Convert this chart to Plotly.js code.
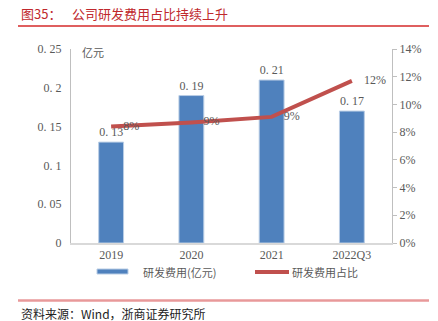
<!DOCTYPE html>
<html><head><meta charset="utf-8">
<script src="https://cdn.plot.ly/plotly-3.0.1.min.js"></script>
<style>html,body{margin:0;padding:0;background:#fff}#c{width:438px;height:321px}</style>
</head><body><div id="c"></div>
<script>
const categories = ['2019', '2020', '2021', '2022Q3'];
const rdExpense = [0.13, 0.19, 0.21, 0.17];      // 亿元
const rdRatio = [0.084, 0.087, 0.091, 0.117];    // 占比
const leftTicks = [0, 0.05, 0.1, 0.15, 0.2, 0.25];
const leftTickText = ['0', '0. 05', '0. 1', '0. 15', '0. 2', '0. 25'];
const barLabels = rdExpense.map(v => v.toFixed(2).replace('.', '. '));
const seriesNames = ['研发费用(亿元)', '研发费用占比'];

const numFont = {family: 'Liberation Serif, serif', size: 12, color: '#595959'};
const cjk = 'Noto Sans CJK SC, sans-serif';

const traces = [
  {type: 'bar', x: categories, y: rdExpense, name: seriesNames[0], width: 0.31,
   marker: {color: '#4f81bd', line: {color: '#b9cde5', width: 1}},
   text: barLabels, textposition: 'outside', cliponaxis: false,
   textfont: numFont, hoverinfo: 'skip'},
  {type: 'scatter', mode: 'lines+text', x: categories, y: rdRatio, yaxis: 'y2', name: seriesNames[1],
   line: {color: '#c0504d', width: 4},
   texttemplate: '    %{y:.0%}', textposition: 'middle right', textfont: numFont, cliponaxis: false}
];

const P = (px) => (px - 71) / 321;
const Q = (py) => (243 - py) / 194;

const layout = {
  width: 438, height: 321,
  margin: {l: 71, r: 46, t: 49, b: 78},
  paper_bgcolor: '#fff', plot_bgcolor: '#fff',
  showlegend: false,
  bargap: 0.69,
  xaxis: {type: 'category', showline: true, linecolor: '#d9d9d9', linewidth: 1.5,
          ticks: '', tickfont: numFont, showgrid: false, fixedrange: true},
  yaxis: {range: [0, 0.25], tickvals: leftTicks, ticktext: leftTickText,
          showline: true, linecolor: '#bfbfbf', linewidth: 1, ticks: '', showgrid: false,
          zeroline: false, tickfont: numFont, ticklabelstandoff: 6},
  yaxis2: {overlaying: 'y', side: 'right', range: [0, 0.14], dtick: 0.02, tickformat: '.0%',
           showline: true, linecolor: '#bfbfbf', linewidth: 1, ticks: 'outside', ticklen: 4,
           tickcolor: '#bfbfbf', showgrid: false, zeroline: false, tickfont: numFont},
  shapes: [
    {type: 'line', xref: 'paper', yref: 'paper', x0: P(18), x1: P(429), y0: Q(26), y1: Q(26),
     line: {color: '#d42a2a', width: 1.5}},
    {type: 'line', xref: 'paper', yref: 'paper', x0: P(18), x1: P(429), y0: Q(300.5), y1: Q(300.5),
     line: {color: '#e8999a', width: 2.5}},
    {type: 'rect', xref: 'paper', yref: 'paper', x0: P(97), x1: P(128), y0: Q(274), y1: Q(269),
     fillcolor: '#4f81bd', line: {color: '#b9cde5', width: 1}},
    {type: 'line', xref: 'paper', yref: 'paper', x0: P(255), x1: P(289), y0: Q(272), y1: Q(272),
     line: {color: '#c0504d', width: 4}}
  ],
  annotations: [
    {xref: 'paper', yref: 'paper', x: P(19), y: Q(14), xanchor: 'left', yanchor: 'middle', showarrow: false,
     text: '图35：', font: {family: cjk, size: 13, color: '#c0282d'}},
    {xref: 'paper', yref: 'paper', x: P(70), y: Q(14), xanchor: 'left', yanchor: 'middle', showarrow: false,
     text: '公司研发费用占比持续上升', font: {family: cjk, size: 13, color: '#c0282d'}},
    {xref: 'paper', yref: 'paper', x: P(80), y: Q(52), xanchor: 'left', yanchor: 'middle', showarrow: false,
     text: '亿元', font: {family: cjk, size: 11, color: '#595959'}},
    {xref: 'paper', yref: 'paper', x: P(141), y: Q(272), xanchor: 'left', yanchor: 'middle', showarrow: false,
     text: seriesNames[0], font: {family: cjk, size: 11, color: '#595959'}},
    {xref: 'paper', yref: 'paper', x: P(290), y: Q(272), xanchor: 'left', yanchor: 'middle', showarrow: false,
     text: seriesNames[1], font: {family: cjk, size: 11, color: '#595959'}},
    {xref: 'paper', yref: 'paper', x: P(19), y: Q(313), xanchor: 'left', yanchor: 'middle', showarrow: false,
     text: '资料来源：Wind，浙商证券研究所', font: {family: cjk, size: 12, color: '#222'}}
  ]
};

Plotly.newPlot('c', traces, layout, {displayModeBar: false, staticPlot: true});
</script></body></html>
